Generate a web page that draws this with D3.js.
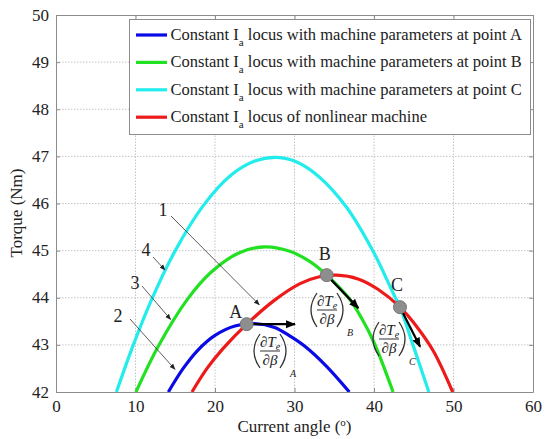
<!DOCTYPE html>
<html>
<head>
<meta charset="utf-8">
<script src="https://cdn.jsdelivr.net/npm/d3@7"></script>
<style>
    body { margin: 0; background: #fff; }
    svg text { font-family: "Liberation Serif", "Times New Roman", serif; }
</style>
</head>
<body>
<div id="chart"></div>
<script>
////////// DATA //////////

const X_TICKS = [0, 10, 20, 30, 40, 50, 60];
const Y_TICKS = [42, 43, 44, 45, 46, 47, 48, 49, 50];

const series_names = [
    "locus with machine parameters at point A",
    "locus with machine parameters at point B",
    "locus with machine parameters at point C",
    "locus of nonlinear machine"
];
const series_colors = ["#0a0ae6", "#22e022", "#22ecec", "#ee1a1a"];

// [current angle, torque]
const locus_a = [[14.13, 42], [16, 42.5], [17.8, 42.88], [20, 43.2], [22.5, 43.4], [25, 43.45],
    [27.5, 43.37], [29.5, 43.18], [31.3, 42.97], [34, 42.55], [36.9, 42]];
const locus_b = [[10.06, 42], [12.9, 42.98], [16.5, 43.96], [19.5, 44.54], [23, 44.95], [26.3, 45.08],
    [29.5, 44.98], [32, 44.76], [34.05, 44.48], [36.8, 44.0], [38.5, 43.55], [40, 43.05], [42.4, 42]];
const locus_c = [[7.6, 42], [9.7, 42.99], [12.0, 43.95], [15.0, 45.0], [18.5, 45.95], [22, 46.6], [25, 46.9],
    [27.6, 46.98], [30, 46.9], [33, 46.58], [36.5, 45.93], [40.0, 44.95], [42.4, 44.1], [43.27, 43.8],
    [44.9, 43.0], [46.9, 42]];
const locus_nl = [[17.1, 42], [19, 42.5], [21, 42.92], [24, 43.44], [27.5, 43.95], [30.7, 44.3],
    [33, 44.44], [35.3, 44.48], [38, 44.4], [40.5, 44.18], [43.27, 43.8], [45.5, 43.36],
    [47.5, 42.86], [49.9, 42]];

const point_names = ["A", "B", "C"];
const point_x = [23.98, 34.05, 43.27];
const point_y = [43.44, 44.48, 43.8];
// tip of the slope arrow drawn from each point
const slope_x = [30.06, 38.03, 45.8];
const slope_y = [43.44, 43.78, 42.96];

const number_labels = ["1", "4", "3", "2"];
// where each numbered pointer ends, in data units
const number_tip_x = [25.57, 13.71, 14.42, 14.97];
const number_tip_y = [43.85, 44.59, 43.54, 42.48];

////////// DRAWING //////////

const FONT = "Liberation Serif";
var width = 554, height = 439;
var margin = {left: 56, right: 21, top: 15, bottom: 47};

var svg = d3.select("#chart").append("svg")
    .attr("width", width)
    .attr("height", height);

var x = d3.scaleLinear().domain([0, 60]).range([margin.left, width - margin.right]);
var y = d3.scaleLinear().domain([42, 50]).range([height - margin.bottom, margin.top]);

var defs = svg.append("defs");
defs.append("clipPath").attr("id", "plot_clip")
    .append("rect")
    .attr("x", x(0)).attr("y", y(50))
    .attr("width", x(60) - x(0)).attr("height", y(42) - y(50));

function add_marker(id, size, color) {
    defs.append("marker")
        .attr("id", id)
        .attr("viewBox", "0 0 10 10")
        .attr("refX", 9).attr("refY", 5)
        .attr("markerUnits", "userSpaceOnUse")
        .attr("markerWidth", size).attr("markerHeight", size)
        .attr("orient", "auto")
        .append("path")
        .attr("d", "M0,1 L10,5 L0,9 Z")
        .attr("fill", color);
}
add_marker("head_big", 10, "#000");
add_marker("head_small", 6, "#222");

/**
 * dotted grid, frame, inward ticks and labels
 */
function draw_axes() {
    let grid = svg.append("g");
    grid.selectAll(".vg").data(X_TICKS.slice(1, -1)).enter().append("line")
        .attr("x1", d => x(d)).attr("x2", d => x(d))
        .attr("y1", y(42)).attr("y2", y(50))
        .attr("stroke", "#c4c4c4").attr("stroke-width", 1)
        .attr("stroke-dasharray", "1.5,1.5");
    grid.selectAll(".hg").data(Y_TICKS.slice(1, -1)).enter().append("line")
        .attr("x1", x(0)).attr("x2", x(60))
        .attr("y1", d => y(d)).attr("y2", d => y(d))
        .attr("stroke", "#c4c4c4").attr("stroke-width", 1)
        .attr("stroke-dasharray", "1.5,1.5");

    let xb = svg.append("g").attr("transform", "translate(0," + y(42) + ")")
        .call(d3.axisBottom(x).tickValues(X_TICKS).tickSizeInner(-4).tickSizeOuter(0).tickPadding(8));
    let xt = svg.append("g").attr("transform", "translate(0," + y(50) + ")")
        .call(d3.axisTop(x).tickValues(X_TICKS).tickSizeInner(-4).tickSizeOuter(0).tickFormat(""));
    let yl = svg.append("g").attr("transform", "translate(" + x(0) + ",0)")
        .call(d3.axisLeft(y).tickValues(Y_TICKS).tickSizeInner(-4).tickSizeOuter(0).tickPadding(7));
    let yr = svg.append("g").attr("transform", "translate(" + x(60) + ",0)")
        .call(d3.axisRight(y).tickValues(Y_TICKS).tickSizeInner(-4).tickSizeOuter(0).tickFormat(""));

    [xb, xt, yl, yr].forEach(function(g) {
        g.attr("font-size", 17);
        g.select(".domain").attr("stroke", "#8c8c8c");
        g.selectAll(".tick line").attr("stroke", "#8c8c8c");
        g.selectAll("text").attr("fill", "#222");
    });
    yl.selectAll(".tick text").attr("dy", "0.3em");

    svg.append("text")
        .attr("x", (x(0) + x(60)) / 2).attr("y", 432)
        .attr("text-anchor", "middle")
        .attr("font-size", 17).attr("fill", "#222")
        .html("Current angle (<tspan dy='-6' font-size='11'>o</tspan><tspan dy='6'>)</tspan>");

    svg.append("text")
        .attr("transform", "translate(22,213) rotate(-90)")
        .attr("text-anchor", "middle")
        .attr("font-size", 17).attr("fill", "#222")
        .text("Torque (Nm)");
}

function draw_curves() {
    let line = d3.line()
        .x(d => x(d[0])).y(d => y(d[1]))
        .curve(d3.curveCatmullRom.alpha(0.5));
    let g = svg.append("g").attr("clip-path", "url(#plot_clip)");
    [locus_a, locus_b, locus_c, locus_nl].forEach(function(data, i) {
        g.append("path")
            .attr("d", line(data))
            .attr("fill", "none")
            .attr("stroke", series_colors[i])
            .attr("stroke-width", 3.2);
    });
}

/**
 * draws a (dTe/dbeta)_sub label centred on cx, cy
 */
function slope_label(cx, cy, sub) {
    let g = svg.append("g").attr("transform", "translate(" + cx + "," + cy + ")")
        .attr("fill", "#222");
    let h = 17;
    g.append("path")
        .attr("d", "M-10,-" + h + " Q-22,0 -10," + h)
        .attr("fill", "none").attr("stroke", "#333").attr("stroke-width", 1.3);
    g.append("path")
        .attr("d", "M10,-" + h + " Q22,0 10," + h)
        .attr("fill", "none").attr("stroke", "#333").attr("stroke-width", 1.3);
    g.append("line")
        .attr("x1", -10).attr("x2", 10).attr("y1", 0).attr("y2", 0)
        .attr("stroke", "#333").attr("stroke-width", 1);
    g.append("text")
        .attr("x", 0).attr("y", -4)
        .attr("text-anchor", "middle")
        .attr("font-size", 15).attr("font-style", "italic")
        .html("∂T<tspan dy='3' font-size='10'>e</tspan>");
    g.append("text")
        .attr("x", 0).attr("y", 14)
        .attr("text-anchor", "middle")
        .attr("font-size", 15).attr("font-style", "italic")
        .text("∂β");
    g.append("text")
        .attr("x", 20).attr("y", 26)
        .attr("font-size", 10).attr("font-style", "italic")
        .text(sub);
}

function draw_points() {
    let offsets = [[-11, -6], [-2, -15], [-3, -16]];
    let label_pos = [[270, 351], [327, 310], [389, 339]];
    point_names.forEach(function(name, i) {
        svg.append("line")
            .attr("x1", x(point_x[i])).attr("y1", y(point_y[i]))
            .attr("x2", x(slope_x[i])).attr("y2", y(slope_y[i]))
            .attr("stroke", "#000").attr("stroke-width", 2.2)
            .attr("marker-end", "url(#head_big)");
        svg.append("circle")
            .attr("cx", x(point_x[i])).attr("cy", y(point_y[i]))
            .attr("r", 6.5)
            .attr("fill", "#8e8e8e").attr("stroke", "#777").attr("stroke-width", 1);
        svg.append("text")
            .attr("x", x(point_x[i]) + offsets[i][0]).attr("y", y(point_y[i]) + offsets[i][1])
            .attr("text-anchor", "middle")
            .attr("font-size", 18).attr("fill", "#222")
            .text(name);
        slope_label(label_pos[i][0], label_pos[i][1], name);
    });
}

function draw_numbers() {
    let label_pos = [[163, 216], [146, 256], [135, 289], [118, 322]];
    let starts = [[171, 216], [153, 257], [142, 286], [130, 319]];
    number_labels.forEach(function(n, i) {
        svg.append("text")
            .attr("x", label_pos[i][0]).attr("y", label_pos[i][1])
            .attr("text-anchor", "middle")
            .attr("font-size", 18).attr("fill", "#222")
            .text(n);
        svg.append("line")
            .attr("x1", starts[i][0]).attr("y1", starts[i][1])
            .attr("x2", x(number_tip_x[i])).attr("y2", y(number_tip_y[i]))
            .attr("stroke", "#333").attr("stroke-width", 0.8)
            .attr("marker-end", "url(#head_small)");
    });
}

function draw_legend() {
    let g = svg.append("g");
    g.append("rect")
        .attr("x", 129.5).attr("y", 19.5)
        .attr("width", 401).attr("height", 115)
        .attr("fill", "#fff").attr("stroke", "#8c8c8c").attr("stroke-width", 1);
    series_names.forEach(function(name, i) {
        let ly = 35 + i * 27.4;
        g.append("line")
            .attr("x1", 136).attr("x2", 167)
            .attr("y1", ly).attr("y2", ly)
            .attr("stroke", series_colors[i]).attr("stroke-width", 3.2);
        g.append("text")
            .attr("x", 170.5).attr("y", ly + 5)
            .attr("font-size", 16.5).attr("fill", "#222")
            .html("Constant I<tspan dy='6' font-size='11'>a</tspan><tspan dy='-6'> " + name + "</tspan>");
    });
}

function main() {
    draw_axes();
    draw_curves();
    draw_numbers();
    draw_points();
    draw_legend();
    // every label in the serif face, axis groups included
    svg.selectAll("g").attr("font-family", null);
    svg.selectAll("text").attr("font-family", FONT).style("font-family", FONT);
}

main();
</script>
</body>
</html>
